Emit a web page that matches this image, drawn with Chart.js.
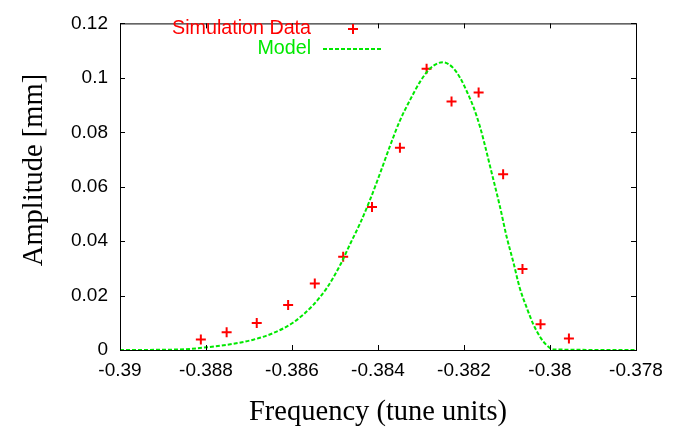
<!DOCTYPE html>
<html lang="en">
<head>
<meta charset="UTF-8">
<title>Amplitude vs Frequency</title>
<script src="https://cdn.jsdelivr.net/npm/chart.js"></script>
<style>
  body { margin: 0; background: #fff; }
</style>
</head>
<body>
<canvas id="chart" width="695" height="431"></canvas>
<script>
// simulation points
const simFreq = [-0.38812, -0.38752, -0.38682, -0.38609, -0.38547, -0.38481, -0.38414, -0.38349,
                 -0.38287, -0.38229, -0.38166, -0.38109, -0.38064, -0.38022, -0.37956];
const simAmp = [0.0039, 0.0065, 0.0099, 0.0165, 0.0244, 0.0343, 0.0525, 0.0743,
                0.1033, 0.0913, 0.0946, 0.0646, 0.0298, 0.0095, 0.0042];

// model curve samples
const modelFreq = [-0.39, -0.38861, -0.38798, -0.38752, -0.38690, -0.38644, -0.38597, -0.38551,
                   -0.38519, -0.38488, -0.38465, -0.38442, -0.38419, -0.38395, -0.38372, -0.38349,
                   -0.38326, -0.38302, -0.38279, -0.38260, -0.38248, -0.38225, -0.38209, -0.38194,
                   -0.38178, -0.38163, -0.38151, -0.38140, -0.38116, -0.38101, -0.38085, -0.38070,
                   -0.38054, -0.38039, -0.38023, -0.38008, -0.37992, -0.378];
const modelAmp = [0, 0.0002, 0.001, 0.0019, 0.0038, 0.0062, 0.0101, 0.0165,
                  0.0228, 0.0312, 0.0389, 0.0464, 0.0550, 0.0650, 0.075, 0.0843,
                  0.0917, 0.0986, 0.1034, 0.1054, 0.1057, 0.1036, 0.1, 0.0952,
                  0.0893, 0.0821, 0.075, 0.0679, 0.0524, 0.0417, 0.0321, 0.0226,
                  0.0155, 0.0095, 0.0048, 0.0018, 0.0002, 0];

const xTicks = [-0.39, -0.388, -0.386, -0.384, -0.382, -0.38, -0.378];
const xTickLabels = ['-0.39', '-0.388', '-0.386', '-0.384', '-0.382', '-0.38', '-0.378'];
const yTicks = [0, 0.02, 0.04, 0.06, 0.08, 0.1, 0.12];
const yTickLabels = ['0', '0.02', '0.04', '0.06', '0.08', '0.1', '0.12'];
const xTitle = 'Frequency (tune units)';
const yTitle = 'Amplitude [mm]';

const RED = '#ff0000';
const GREEN = '#00e800';
const SERIF = '"Liberation Serif", "Times New Roman", serif';
const SANS = '"Liberation Sans", Arial, sans-serif';

// gnuplot style box with inward ticks, axis titles and key
const frame = {
  id: 'frame',
  afterDatasetsDraw(chart) {
    const {ctx, chartArea: a, scales: {x, y}} = chart;
    ctx.save();
    ctx.strokeStyle = '#000';
    ctx.lineWidth = 1;
    ctx.strokeRect(a.left + 0.5, a.top + 0.5, a.right - a.left, a.bottom - a.top);
    ctx.beginPath();
    xTicks.forEach(v => {
      const px = Math.round(x.getPixelForValue(v)) + 0.5;
      ctx.moveTo(px, a.bottom); ctx.lineTo(px, a.bottom - 5);
      ctx.moveTo(px, a.top); ctx.lineTo(px, a.top + 5);
    });
    yTicks.forEach(v => {
      const py = Math.round(y.getPixelForValue(v)) + 0.5;
      ctx.moveTo(a.left, py); ctx.lineTo(a.left + 5, py);
      ctx.moveTo(a.right, py); ctx.lineTo(a.right - 5, py);
    });
    ctx.stroke();
    ctx.restore();
  },
  afterDraw(chart) {
    const {ctx, chartArea: a} = chart;
    const ds = chart.data.datasets;
    ctx.save();
    // axis titles
    ctx.fillStyle = '#000';
    ctx.font = '28.5px ' + SERIF;
    ctx.textAlign = 'center';
    ctx.textBaseline = 'alphabetic';
    ctx.fillText(xTitle, (a.left + a.right) / 2, 420);
    ctx.save();
    ctx.translate(42, 170);
    ctx.rotate(-Math.PI / 2);
    ctx.fillText(yTitle, 0, 0);
    ctx.restore();
    // key
    ctx.font = '19.7px ' + SANS;
    ctx.textAlign = 'right';
    ctx.textBaseline = 'middle';
    ctx.fillStyle = RED;
    ctx.fillText(ds[0].label, 311, 29);
    ctx.strokeStyle = RED;
    ctx.lineWidth = 2;
    ctx.beginPath();
    ctx.moveTo(348, 29); ctx.lineTo(358, 29);
    ctx.moveTo(353, 24); ctx.lineTo(353, 34);
    ctx.stroke();
    ctx.fillStyle = GREEN;
    ctx.fillText(ds[1].label, 311, 49);
    ctx.strokeStyle = GREEN;
    ctx.setLineDash([4, 2]);
    ctx.beginPath();
    ctx.moveTo(323, 49); ctx.lineTo(382, 49);
    ctx.stroke();
    ctx.restore();
  }
};

const tickFont = {family: SANS, size: 19};

new Chart(document.getElementById('chart'), {
  type: 'scatter',
  data: {
    datasets: [{
      label: 'Simulation Data',
      data: simFreq.map((f, i) => ({x: f, y: simAmp[i]})),
      pointStyle: 'cross',
      pointRadius: 5,
      pointBorderWidth: 2,
      borderColor: RED,
      backgroundColor: RED,
      order: 1
    }, {
      label: 'Model',
      type: 'line',
      data: modelFreq.map((f, i) => ({x: f, y: modelAmp[i]})),
      borderColor: GREEN,
      borderWidth: 2,
      borderDash: [4, 2],
      pointRadius: 0,
      cubicInterpolationMode: 'monotone',
      fill: false,
      order: 0
    }]
  },
  options: {
    responsive: false,
    animation: false,
    layout: {padding: {left: 0, top: 14, right: 59, bottom: 0}},
    plugins: {legend: {display: false}, tooltip: {enabled: false}},
    scales: {
      x: {
        type: 'linear',
        min: -0.39,
        max: -0.378,
        afterBuildTicks: s => { s.ticks = xTicks.map(v => ({value: v})); },
        afterFit: s => { s.height = 81; },
        ticks: {
          callback: (v, i) => xTickLabels[i],
          font: tickFont,
          color: '#000',
          padding: 9,
          maxRotation: 0,
          autoSkip: false
        },
        grid: {display: false, drawTicks: false},
        border: {display: false}
      },
      y: {
        min: 0,
        max: 0.12,
        afterBuildTicks: s => { s.ticks = yTicks.map(v => ({value: v})); },
        afterFit: s => { s.width = 120; },
        ticks: {
          callback: (v, i) => yTickLabels[i],
          font: tickFont,
          color: '#000',
          padding: 12
        },
        grid: {display: false, drawTicks: false},
        border: {display: false}
      }
    }
  },
  plugins: [frame]
});
</script>
</body>
</html>
